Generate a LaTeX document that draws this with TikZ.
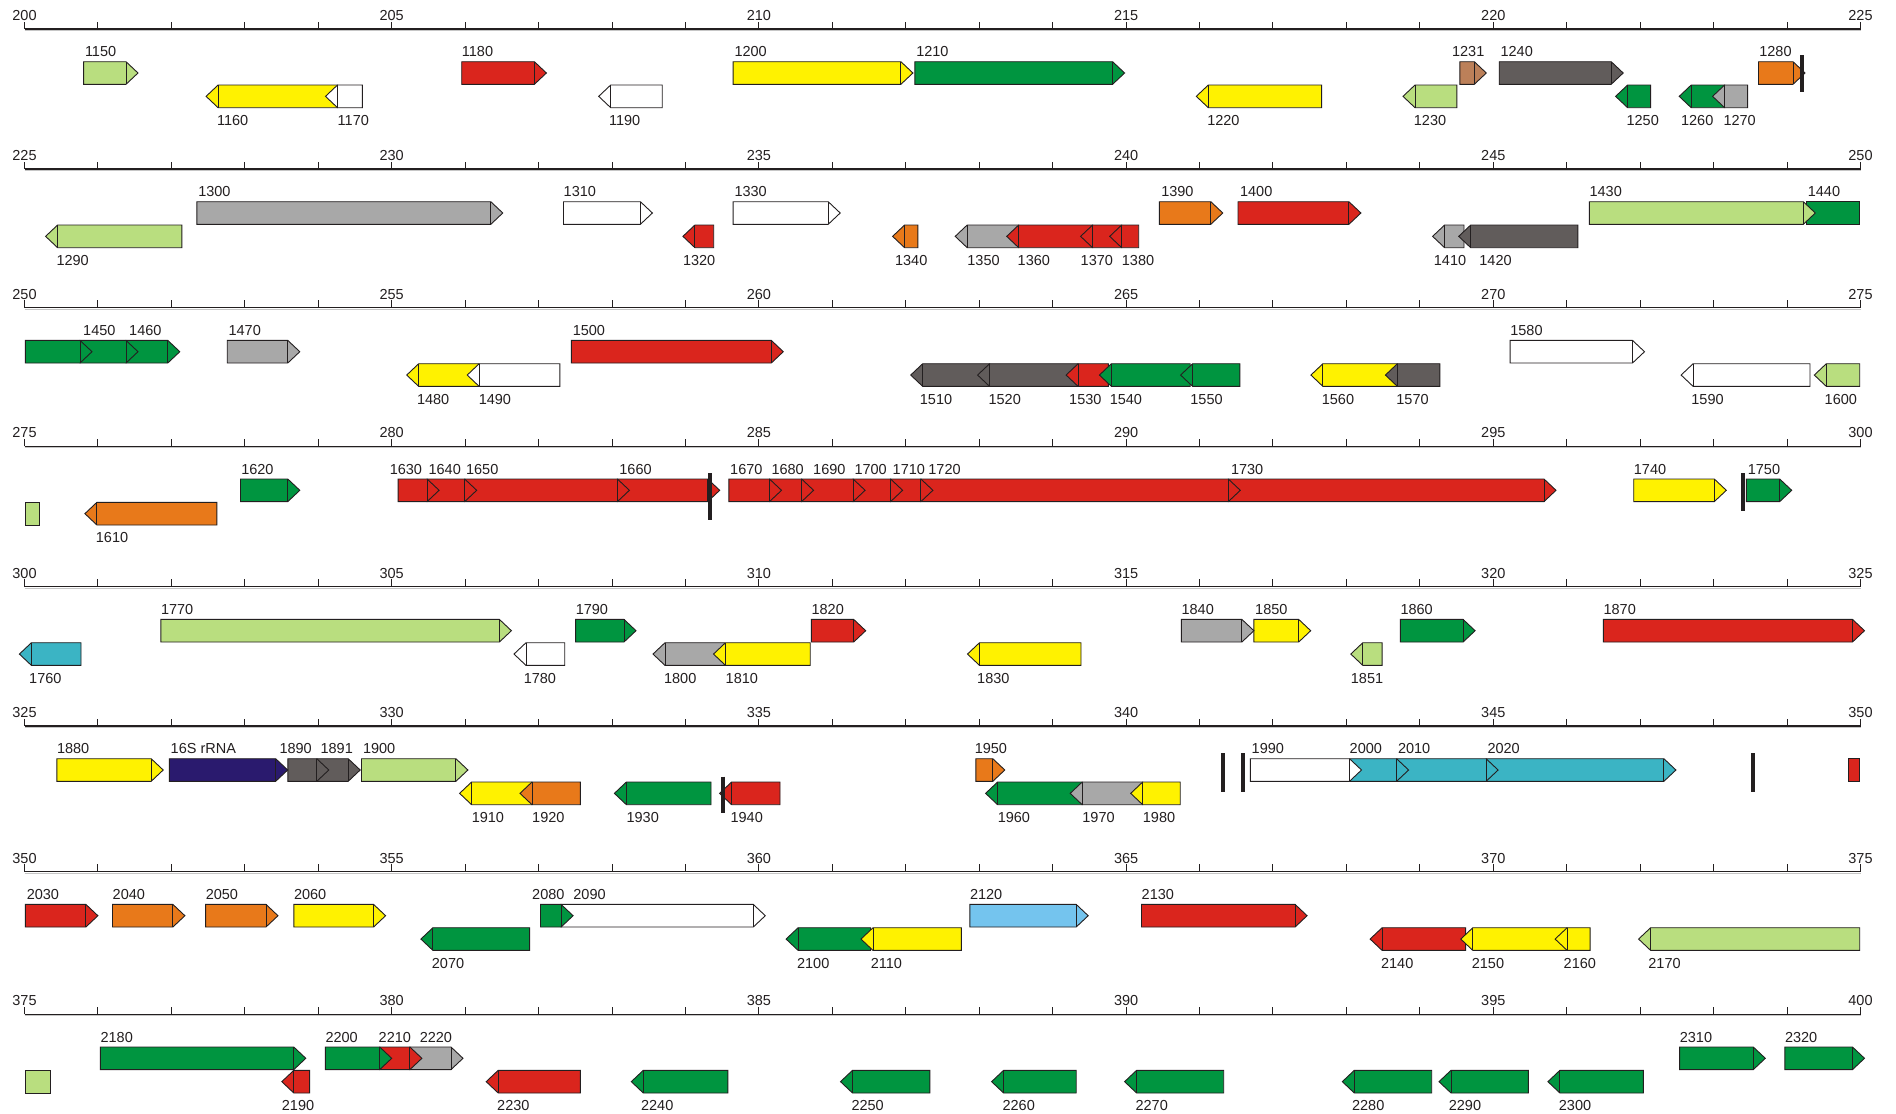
\documentclass[tikz,border=0pt]{standalone}
\usepackage{fontspec}
\setmainfont{Liberation Sans}
\definecolor{lg}{HTML}{B9DE7F}
\definecolor{ye}{HTML}{FFF200}
\definecolor{rd}{HTML}{DA251D}
\definecolor{gn}{HTML}{009540}
\definecolor{wh}{HTML}{FFFFFF}
\definecolor{dg}{HTML}{615C5B}
\definecolor{gy}{HTML}{A8A8A8}
\definecolor{or}{HTML}{E8791A}
\definecolor{br}{HTML}{BC8059}
\definecolor{tl}{HTML}{3BB4C4}
\definecolor{nv}{HTML}{2A1A6E}
\definecolor{lb}{HTML}{74C4EE}
\definecolor{ink}{HTML}{231F20}
\tikzset{
  gene/.style={draw=ink, line width=0.9pt, line join=miter},
  lbl/.style={inner sep=0pt, font=\fontsize{14.5}{16}\selectfont, text=ink},
  axisl/.style={line width=1.4pt, draw=ink},
  tickl/.style={line width=1pt, draw=ink},
  kbarl/.style={line width=4pt, draw=ink},
}
% forward gene: x1, x2, colour, label, label x
\newcommand\gF[5]{%
  \draw[gene,fill=#3] (#1,32.7) -- (#2,32.7) -- (#2+12,44) -- (#2,55.3) -- (#1,55.3) -- cycle;
  \draw[gene] (#2,32.7) -- (#2,55.3);
  \node[lbl,anchor=base west] (g#4) at (#5,27.7) {#4};}
\newcommand\gFn[3]{%
  \draw[gene,fill=#3] (#1,32.7) -- (#2,32.7) -- (#2+12,44) -- (#2,55.3) -- (#1,55.3) -- cycle;
  \draw[gene] (#2,32.7) -- (#2,55.3);}
% reverse gene: x1, x2, colour, label, label x
\newcommand\gR[5]{%
  \draw[gene,fill=#3] (#1,56) -- (#2,56) -- (#2,78.7) -- (#1,78.7) -- (#1-12,67.35) -- cycle;
  \draw[gene] (#1,56) -- (#1,78.7);
  \node[lbl,anchor=base west] (g#4) at (#5,96.5) {#4};}
% plain boxes (gene pieces cut at row ends)
\newcommand\gBT[3]{\draw[gene,fill=#1] (#2,32.7) rectangle (#3,55.3);}
\newcommand\gBB[3]{\draw[gene,fill=#1] (#2,56) rectangle (#3,78.7);}
\newcommand\kbar[3]{\draw[kbarl] (#1,#2) -- (#1,#3);}
\newcommand\kaxis[1]{%
  \draw[gray!45, line width=1pt] (24.5,1.5) -- (1860.5,1.5);
  \draw[axisl] (24.5,0) -- (1860.5,0);
  \foreach \i in {0,...,25} {\draw[tickl] (24.5+\i*73.44,0) -- (24.5+\i*73.44,-7.5);}
  \foreach \i in {0,5,...,25} {\pgfmathtruncatemacro\kl{#1+\i}
    \node[lbl,anchor=base] (ax#1x\i) at (24.5+\i*73.44,-8.7) {\kl};}}
\begin{document}
\begin{tikzpicture}[x=1pt,y=-1pt]
\fill[white] (0,0) rectangle (1896,1114);
\useasboundingbox (0,0) rectangle (1896,1114);

% ---------------- row 1 : 200-225
\begin{scope}[yshift=-29pt]
\kaxis{200}
\gF{1758.5}{1793.0}{or}{1280}{1759.1}
\gF{1499.2}{1611.2}{dg}{1240}{1500.4}
\gF{1459.8}{1474.3}{br}{1231}{1451.9}
\gF{914.9}{1112.6}{gn}{1210}{916.1}
\gF{733.1}{900.9}{ye}{1200}{734.3}
\gF{461.7}{534.4}{rd}{1180}{461.7}
\gF{83.6}{126.0}{lg}{1150}{84.8}
\gR{218.1}{337.5}{ye}{1160}{216.9}
\gR{337.5}{362.3}{wh}{1170}{337.5}
\gR{610.7}{662.2}{wh}{1190}{608.9}
\gR{1208.3}{1321.6}{ye}{1220}{1207.1}
\gR{1415.0}{1456.8}{lg}{1230}{1413.7}
\gR{1627.6}{1650.6}{gn}{1250}{1626.4}
\gR{1691.2}{1724.6}{gn}{1260}{1680.9}
\gR{1724.6}{1747.6}{gy}{1270}{1723.3}
\kbar{1802.1}{26}{62.7}
\end{scope}

% ---------------- row 2 : 225-250
\begin{scope}[yshift=-169pt]
\kaxis{225}
\gBT{gn}{1806.3}{1859.7}
\node[lbl,anchor=base west] (g1440) at (1807.6,27.7) {1440};
\gF{1589.4}{1803.3}{lg}{1430}{1589.4}
\gF{1238.0}{1348.9}{rd}{1400}{1239.9}
\gF{1159.3}{1210.8}{or}{1390}{1161.1}
\gF{733.1}{828.2}{wh}{1330}{734.3}
\gF{563.5}{640.4}{wh}{1310}{563.5}
\gF{196.9}{490.8}{gy}{1300}{198.1}
\gR{57.6}{181.8}{lg}{1290}{56.3}
\gR{694.9}{713.7}{rd}{1320}{682.8}
\gR{904.6}{917.9}{or}{1340}{894.9}
\gR{967.2}{1018.7}{gy}{1350}{967.2}
\gR{1018.7}{1092.6}{rd}{1360}{1017.5}
\gR{1092.6}{1121.7}{rd}{1370}{1080.5}
\gR{1121.7}{1138.7}{rd}{1380}{1121.7}
\gR{1444.6}{1464.0}{gy}{1410}{1433.7}
\gR{1470.7}{1577.9}{dg}{1420}{1479.2}
\end{scope}

% ---------------- row 3 : 250-275
\begin{scope}[yshift=-307.7pt]
\kaxis{250}
\gF{1510.1}{1632.5}{wh}{1580}{1510.1}
\gF{571.3}{771.3}{rd}{1500}{572.6}
\gF{227.2}{287.8}{gy}{1470}{228.4}
\gF{126.0}{167.8}{gn}{1460}{129}
\gF{80.0}{126.0}{gn}{1450}{83}
\gFn{25.4}{80.0}{gn}
\gR{418.7}{479.2}{ye}{1480}{416.8}
\gR{479.2}{559.8}{wh}{1490}{478.6}
\gR{922.7}{989.6}{dg}{1510}{919.7}
\gR{989.6}{1078.1}{dg}{1520}{988.4}
\gR{1078.1}{1108.4}{rd}{1530}{1069}
\gR{1111.4}{1190.2}{gn}{1540}{1109.6}
\gR{1192.6}{1239.9}{gn}{1550}{1190.2}
\gR{1322.9}{1397.4}{ye}{1560}{1321.6}
\gR{1397.4}{1439.8}{dg}{1570}{1396.2}
\gR{1693.1}{1810.0}{wh}{1590}{1691.2}
\gR{1826.3}{1859.7}{lg}{1600}{1824.5}
\end{scope}

% ---------------- row 4 : 275-300
\begin{scope}[yshift=-446.3pt]
\kaxis{275}
\gBB{lg}{25.4}{39.4}
\gR{96.9}{216.9}{or}{1610}{95.7}
\gF{1746.4}{1779.7}{gn}{1750}{1747.6}
\gF{1633.7}{1714.3}{ye}{1740}{1633.7}
\gF{1228.3}{1544.0}{rd}{1730}{1230.8}
\gF{920.9}{1228.3}{rd}{1720}{928.2}
\gF{890.6}{920.9}{rd}{1710}{892.5}
\gF{853.1}{890.6}{rd}{1700}{854.3}
\gF{801.6}{853.1}{rd}{1690}{813}
\gF{769.5}{801.6}{rd}{1680}{771.3}
\gF{728.9}{769.5}{rd}{1670}{730}
\gF{617.4}{707.7}{rd}{1660}{619.2}
\gF{464.7}{617.4}{rd}{1650}{465.9}
\gF{427.1}{464.7}{rd}{1640}{428.4}
\gF{398.1}{427.1}{rd}{1630}{389.6}
\gF{240.5}{287.8}{gn}{1620}{241.1}
\kbar{710.1}{27}{73.7}
\kbar{1742.7}{27}{64.4}
\end{scope}

% ---------------- row 5 : 300-325
\begin{scope}[yshift=-586.7pt]
\kaxis{300}
\gF{1603.4}{1852.5}{rd}{1870}{1603.4}
\gF{1400.3}{1463.1}{gn}{1860}{1400.3}
\gF{1253.9}{1298.7}{ye}{1850}{1255}
\gF{1181.4}{1241.9}{gy}{1840}{1181.4}
\gF{811.4}{853.7}{rd}{1820}{811.4}
\gF{575.6}{624.0}{gn}{1790}{575.6}
\gF{160.8}{499.4}{lg}{1770}{160.8}
\gR{31.4}{81.0}{tl}{1760}{29}
\gR{526.0}{564.7}{wh}{1780}{523.6}
\gR{665.0}{724.3}{gy}{1800}{663.9}
\gR{725.5}{810.2}{ye}{1810}{725.5}
\gR{979.5}{1081.0}{ye}{1830}{977}
\gR{1362.8}{1382.1}{lg}{1851}{1350.7}
\end{scope}

% ---------------- row 6 : 325-350
\begin{scope}[yshift=-726pt]
\kaxis{325}
\gBT{rd}{1848.9}{1859.7}
\gF{1486.1}{1663.9}{tl}{2020}{1487.3}
\gF{1396.6}{1486.1}{tl}{2010}{1397.8}
\gF{1349.5}{1396.6}{tl}{2000}{1349.5}
\gF{1250.3}{1349.5}{wh}{1990}{1251.5}
\gF{975.8}{992.8}{or}{1950}{974.6}
\gF{361.5}{455.9}{lg}{1900}{362.8}
\gF{316.8}{348.2}{dg}{1891}{320.4}
\gF{287.8}{316.8}{dg}{1890}{279.3}
\gFn{169.3}{275.7}{nv}
\node[lbl,anchor=base west] (g16S) at (170.5,27.7) {16S rRNA};
\gF{56.8}{151.2}{ye}{1880}{56.8}
\gR{471.6}{532.0}{ye}{1910}{471.6}
\gR{532.0}{580.4}{or}{1920}{532}
\gR{626.4}{711.0}{gn}{1930}{626.4}
\gR{731.6}{780.0}{rd}{1940}{730.4}
\gR{997.6}{1082.2}{gn}{1960}{997.6}
\gR{1082.2}{1142.7}{gy}{1970}{1082.2}
\gR{1142.7}{1180.2}{ye}{1980}{1142.7}
\kbar{723.1}{50.7}{87.3}
\kbar{1222.5}{27.3}{65.7}
\kbar{1243.1}{27.3}{65.7}
\kbar{1753.3}{27.3}{65.7}
\end{scope}

% ---------------- row 7 : 350-375
\begin{scope}[yshift=-871.7pt]
\kaxis{350}
\gF{1141.5}{1295.1}{rd}{2130}{1141.5}
\gF{969.8}{1076.2}{lb}{2120}{969.8}
\gF{561.1}{753.3}{wh}{2090}{573.2}
\gF{540.5}{561.1}{gn}{2080}{532}
\gF{293.8}{373.6}{ye}{2060}{293.8}
\gF{205.6}{266.0}{or}{2050}{205.6}
\gF{112.5}{172.9}{or}{2040}{112.5}
\gF{25.4}{85.9}{rd}{2030}{26.6}
\gR{432.9}{529.6}{gn}{2070}{431.7}
\gR{798.1}{870.6}{gn}{2100}{796.9}
\gR{873.0}{961.3}{ye}{2110}{870.6}
\gR{1382.1}{1465.6}{rd}{2140}{1380.9}
\gR{1472.8}{1567.1}{ye}{2150}{1471.6}
\gR{1567.1}{1590.1}{ye}{2160}{1563.5}
\gR{1650.6}{1859.7}{lg}{2170}{1648.2}
\end{scope}

% ---------------- row 8 : 375-400
\begin{scope}[yshift=-1014.3pt]
\kaxis{375}
\gBB{lg}{25.4}{50.8}
\gF{1784.8}{1852.5}{gn}{2320}{1784.8}
\gF{1679.6}{1753.3}{gn}{2310}{1679.6}
\gF{409.9}{451.0}{gy}{2220}{419.6}
\gF{379.7}{409.9}{rd}{2210}{378.5}
\gF{325.3}{379.7}{gn}{2200}{325.3}
\gF{100.4}{293.8}{gn}{2180}{100.4}
\gR{293.8}{309.6}{rd}{2190}{281.7}
\gR{498.2}{580.4}{rd}{2230}{497}
\gR{643.3}{727.9}{gn}{2240}{640.9}
\gR{852.5}{929.9}{gn}{2250}{851.3}
\gR{1003.6}{1076.2}{gn}{2260}{1002.4}
\gR{1136.6}{1223.7}{gn}{2270}{1135.4}
\gR{1354.3}{1431.7}{gn}{2280}{1351.9}
\gR{1451.0}{1528.4}{gn}{2290}{1448.6}
\gR{1559.9}{1643.3}{gn}{2300}{1558.7}
\end{scope}
\end{tikzpicture}
\end{document}
